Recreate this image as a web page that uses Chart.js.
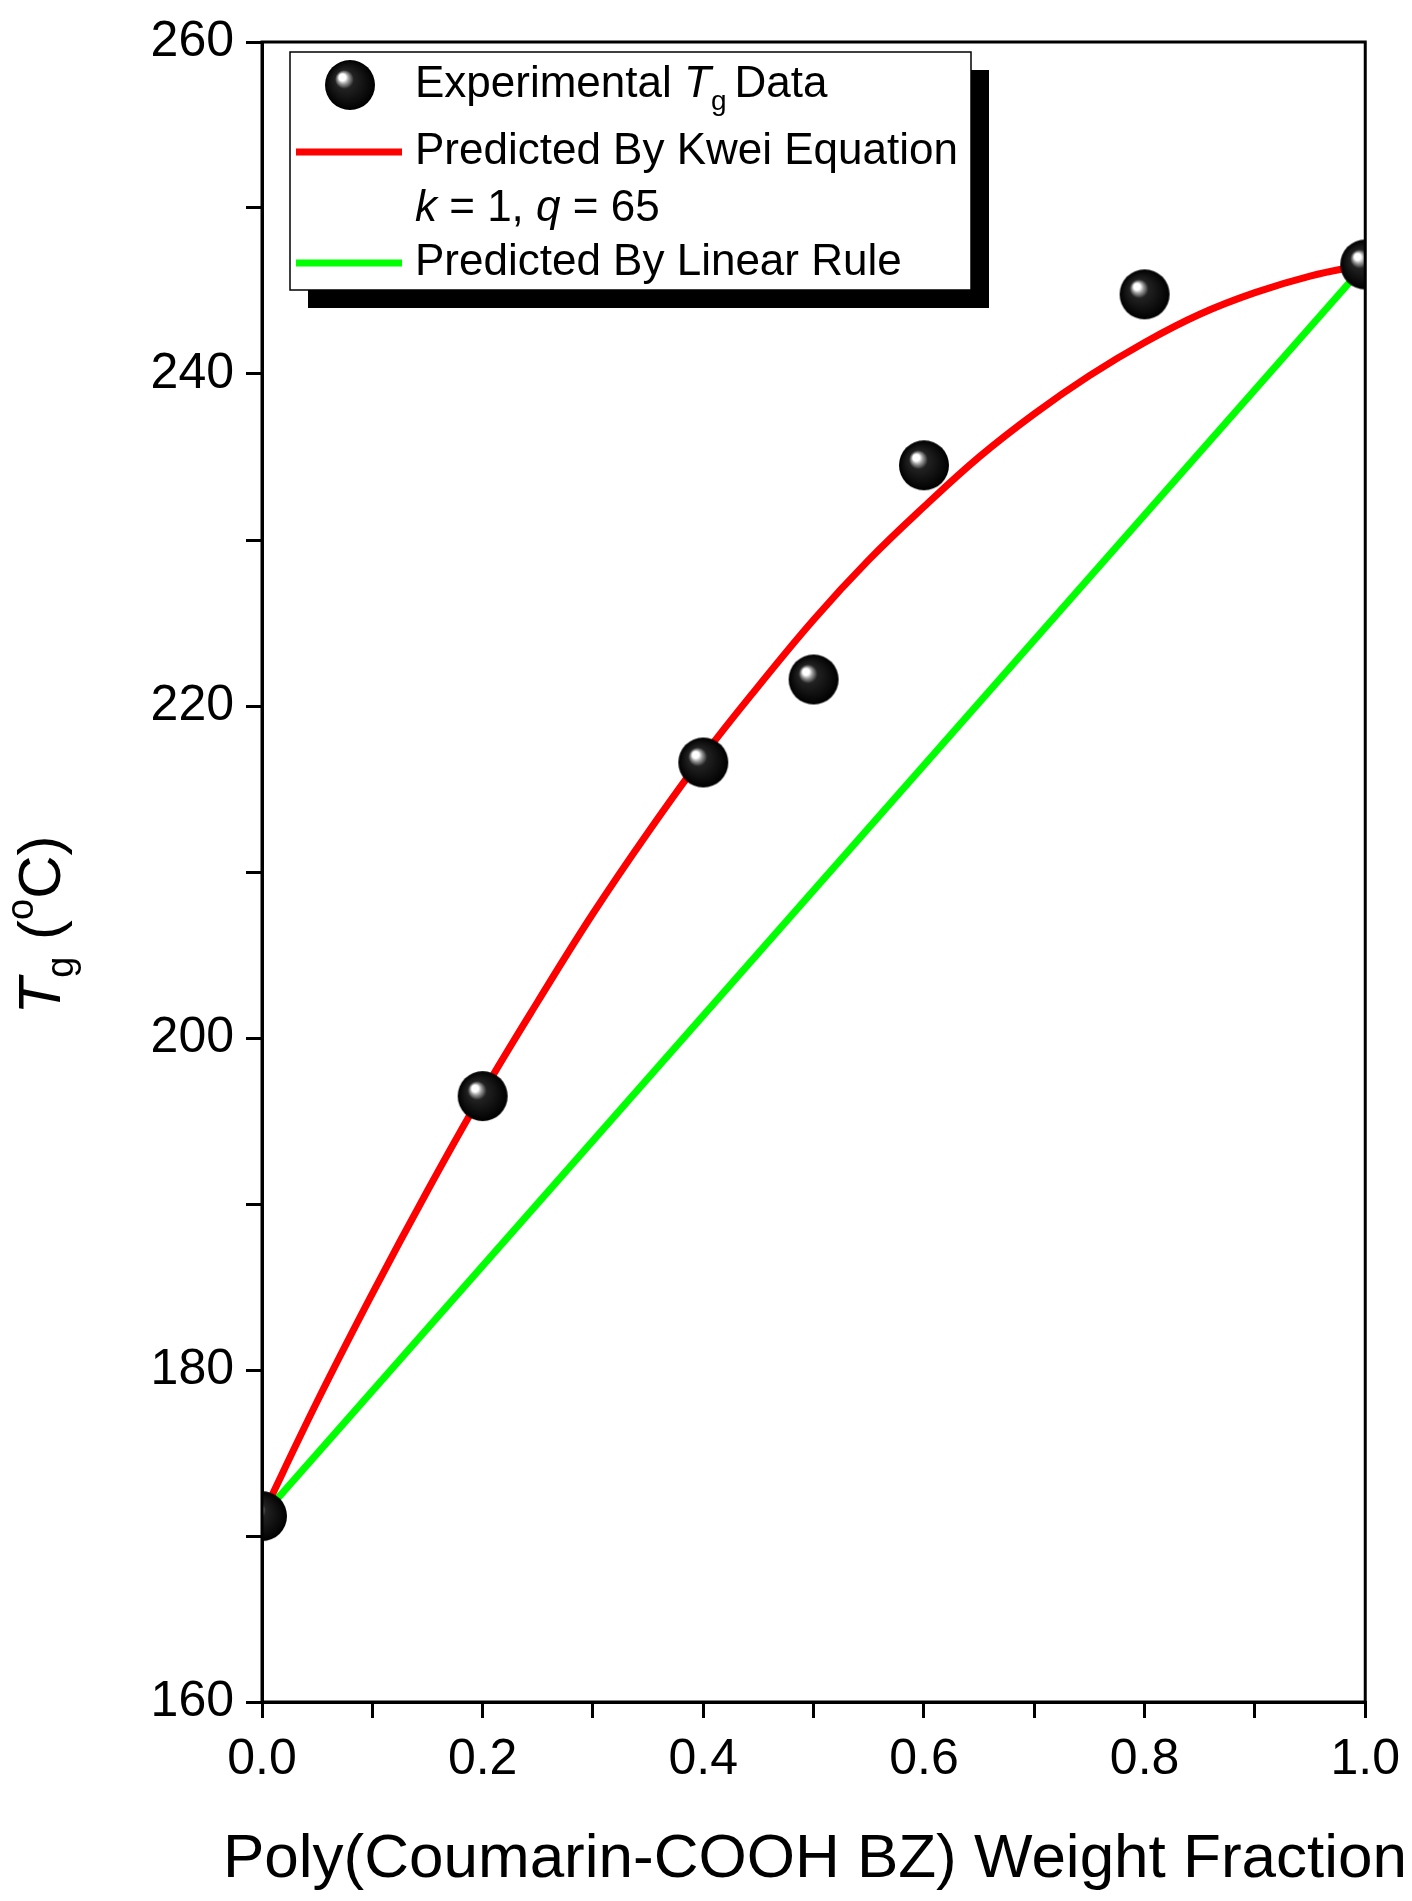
<!DOCTYPE html>
<html><head><meta charset="utf-8">
<script src="https://cdn.jsdelivr.net/npm/chart.js@4"></script>
<style>html,body{margin:0;padding:0;background:#fff}#w{width:1412px;height:1901px}</style>
</head><body><div id="w"><canvas id="c"></canvas></div>
<script>
const expX = [0, 0.2, 0.4, 0.5, 0.6, 0.8, 1.0];
const expTg = [171.2, 196.5, 216.6, 221.6, 234.5, 244.8, 246.6];
const curveX = [0,0.05,0.1,0.15,0.2,0.25,0.3,0.35,0.4,0.45,0.5,0.55,0.6,0.65,0.7,0.75,0.8,0.85,0.9,0.95,1.0];
const kweiTg = [171.2,178.1,184.6,190.8,196.7,202.2,207.5,212.4,217.0,221.2,225.2,228.8,232.0,235.0,237.6,239.9,241.9,243.6,244.9,245.9,246.6];
const linearX = [0, 1.0];
const linearTg = [171.2, 246.6];
const xTicks = ['0.0','0.2','0.4','0.6','0.8','1.0'];
const yTicks = ['160','180','200','220','240','260'];

const FONT = '"Liberation Sans", Arial, sans-serif';
function sphere(r){
  const c=document.createElement('canvas');c.width=c.height=2*r+2;
  const g=c.getContext('2d');
  const gr=g.createRadialGradient(r*0.7,r*0.7,1,r+1,r+1,r);
  gr.addColorStop(0,'#ffffff');gr.addColorStop(0.1,'#ffffff');gr.addColorStop(0.2,'#999');gr.addColorStop(0.35,'#222');gr.addColorStop(1,'#000');
  g.fillStyle=gr;g.beginPath();g.arc(r+1,r+1,r,0,Math.PI*2);g.fill();
  return c;
}
const ball=sphere(25), ballL=sphere(25);
const pts=(xs,ys)=>xs.map((x,i)=>({x,y:ys[i]}));

const deco={id:'deco',afterDraw(ch){
  const g=ch.ctx,a=ch.chartArea;
  g.save();
  g.strokeStyle='#000';g.lineWidth=3;g.strokeRect(a.left,a.top,a.right-a.left,a.bottom-a.top);
  const L=290,T=52,R=971,B=290;
  g.fillStyle='#000';g.fillRect(L+18,T+18,R-L,B-T);
  g.fillStyle='#fff';g.fillRect(L,T,R-L,B-T);
  g.lineWidth=1.5;g.strokeRect(L,T,R-L,B-T);
  g.fillStyle='#000';g.textBaseline='middle';g.textAlign='left';
  g.drawImage(ballL,350-26,85-26);
  const f=s=>s+'px '+FONT, fi=s=>'italic '+s+'px '+FONT;
  const S=44;
  let x=415;g.font=f(S);g.fillText('Experimental ',x,85);x+=g.measureText('Experimental ').width;
  g.font=fi(S);g.fillText('T',x,85);x+=g.measureText('T').width;
  g.font=f(28);g.fillText('g',x,102);x+=g.measureText('g').width+8;
  g.font=f(S);g.fillText('Data',x,85);
  g.lineWidth=7;g.strokeStyle='#ff0000';g.beginPath();g.moveTo(296,152);g.lineTo(402,152);g.stroke();
  g.fillText('Predicted By Kwei Equation',415,152);
  x=415;g.font=fi(S);g.fillText('k',x,209);x+=g.measureText('k').width;
  g.font=f(S);g.fillText(' = 1, ',x,209);x+=g.measureText(' = 1, ').width;
  g.font=fi(S);g.fillText('q',x,209);x+=g.measureText('q').width;
  g.font=f(S);g.fillText(' = 65',x,209);
  g.strokeStyle='#00ff00';g.beginPath();g.moveTo(296,263);g.lineTo(402,263);g.stroke();
  g.fillText('Predicted By Linear Rule',415,263);
  g.textAlign='center';g.font=f(62);g.fillText('Poly(Coumarin-COOH BZ) Weight Fraction',815,1860);
  g.translate(43,925);g.rotate(-Math.PI/2);
  g.textAlign='left';
  const parts=[[fi(60),'T',0],[f(38),'g',20],[f(60),' (',0],[f(38),'o',-20],[f(60),'C)',0]];
  let w=0;parts.forEach(p=>{g.font=p[0];w+=g.measureText(p[1]).width;});
  x=-w/2;parts.forEach(p=>{g.font=p[0];g.fillText(p[1],x,p[2]);x+=g.measureText(p[1]).width;});
  g.restore();
}};

new Chart(document.getElementById('c'),{
  type:'scatter',
  data:{datasets:[
    {label:'Experimental',data:pts(expX,expTg),pointStyle:ball,showLine:false,order:0},
    {label:'Kwei',data:pts(curveX,kweiTg),showLine:true,borderColor:'#ff0000',borderWidth:7,pointRadius:0,tension:0.4,order:1},
    {label:'Linear',data:pts(linearX,linearTg),showLine:true,borderColor:'#00ff00',borderWidth:7,pointRadius:0,order:2}
  ]},
  options:{responsive:true,maintainAspectRatio:false,animation:false,
    layout:{padding:{top:39,right:46,left:0,bottom:0}},
    plugins:{legend:{display:false},tooltip:{enabled:false}},
    scales:{
      x:{min:0,max:1,afterFit(s){s.height=199;},
        ticks:{stepSize:0.1,color:'#000',font:{size:50,family:FONT},padding:12,maxRotation:0,autoSkip:false,
          callback:(v)=>{const i=Math.round(v*10);return i%2===0?xTicks[i/2]:'';}},
        grid:{drawOnChartArea:false,color:'#000',lineWidth:3,tickLength:16},border:{color:'#000',width:3}},
      y:{min:160,max:260,afterFit(s){s.width=262;},
        ticks:{stepSize:10,color:'#000',font:{size:50,family:FONT},padding:12,autoSkip:false,
          callback:(v)=>{const i=Math.round((v-160)/10);return i%2===0?yTicks[i/2]:'';}},
        grid:{drawOnChartArea:false,color:'#000',lineWidth:3,tickLength:16},border:{color:'#000',width:3}}
    }},
  plugins:[deco]
});
</script></body></html>
